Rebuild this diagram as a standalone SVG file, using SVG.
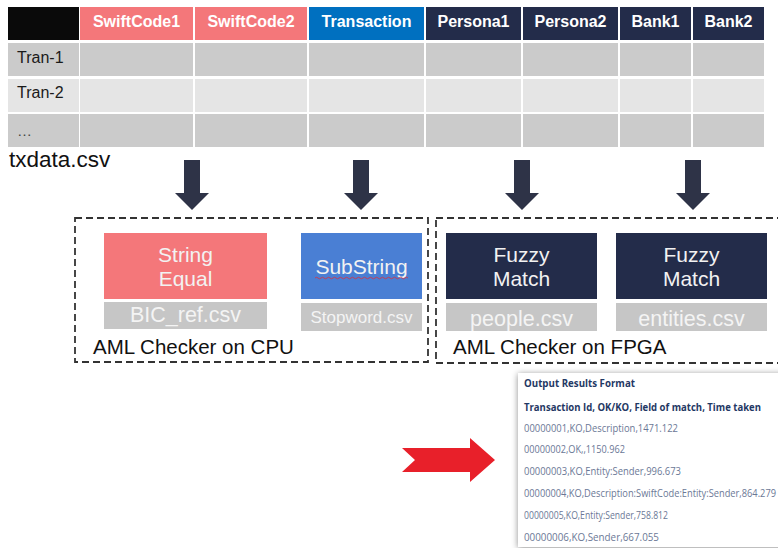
<svg xmlns="http://www.w3.org/2000/svg" width="778" height="548" viewBox="0 0 778 548">
<defs>
<style>
.t{font-family:"Liberation Sans",Arial,sans-serif}
.h{font-family:"Liberation Sans",Arial,sans-serif;font-weight:bold;font-size:16px;fill:#ffffff;text-anchor:middle}
.pink{fill:#f4777a}
.navy{fill:#232c4a}
.g1{fill:#cbcbcb}
.g2{fill:#e5e5e5}
.lbl{font-family:"Liberation Sans",Arial,sans-serif;font-size:21px;fill:#f2f2f2;text-anchor:middle}
.ref{fill:#c6c6c6}
.reft{font-family:"Liberation Sans",Arial,sans-serif;fill:#f4f4f4;text-anchor:middle}
.dash{fill:none;stroke:#333333;stroke-width:1.8;stroke-dasharray:7 4}
.arr{fill:#2e3347}
.out{font-family:"Open Sans","Liberation Sans",sans-serif;font-size:10px;fill:#6b7896}
.outb{font-family:"Open Sans","Liberation Sans",sans-serif;font-weight:bold;font-size:11px;fill:#1f3864}
</style>
<filter id="sh" x="-10%" y="-10%" width="120%" height="120%">
<feGaussianBlur in="SourceAlpha" stdDeviation="3"/>
<feOffset dx="0" dy="1" result="b"/>
<feFlood flood-color="#000" flood-opacity="0.45"/>
<feComposite in2="b" operator="in"/>
<feMerge><feMergeNode/><feMergeNode in="SourceGraphic"/></feMerge>
</filter>
</defs>
<rect width="778" height="548" fill="#ffffff"/>

<g id="table">
<rect x="8" y="7" width="71" height="33" fill="#0a0a0a"/>
<rect x="80" y="7" width="113" height="33" class="pink"/>
<rect x="195" y="7" width="112" height="33" class="pink"/>
<rect x="309" y="7" width="115" height="33" fill="#0070c0"/>
<rect x="426" y="7" width="95" height="33" class="navy"/>
<rect x="523" y="7" width="95" height="33" class="navy"/>
<rect x="620" y="7" width="71" height="33" class="navy"/>
<rect x="693" y="7" width="71" height="33" class="navy"/>
<text class="h" x="136.5" y="27">SwiftCode1</text>
<text class="h" x="251" y="27">SwiftCode2</text>
<text class="h" x="366.5" y="27">Transaction</text>
<text class="h" x="473.5" y="27">Persona1</text>
<text class="h" x="570.5" y="27">Persona2</text>
<text class="h" x="655.5" y="27">Bank1</text>
<text class="h" x="728.5" y="27">Bank2</text>
<g class="g1">
<rect x="8" y="43" width="71" height="33"/><rect x="80" y="43" width="113" height="33"/><rect x="195" y="43" width="112" height="33"/><rect x="309" y="43" width="115" height="33"/><rect x="426" y="43" width="95" height="33"/><rect x="523" y="43" width="95" height="33"/><rect x="620" y="43" width="71" height="33"/><rect x="693" y="43" width="71" height="33"/>
<rect x="8" y="114" width="71" height="33"/><rect x="80" y="114" width="113" height="33"/><rect x="195" y="114" width="112" height="33"/><rect x="309" y="114" width="115" height="33"/><rect x="426" y="114" width="95" height="33"/><rect x="523" y="114" width="95" height="33"/><rect x="620" y="114" width="71" height="33"/><rect x="693" y="114" width="71" height="33"/>
</g>
<g class="g2">
<rect x="8" y="79" width="71" height="33"/><rect x="80" y="79" width="113" height="33"/><rect x="195" y="79" width="112" height="33"/><rect x="309" y="79" width="115" height="33"/><rect x="426" y="79" width="95" height="33"/><rect x="523" y="79" width="95" height="33"/><rect x="620" y="79" width="71" height="33"/><rect x="693" y="79" width="71" height="33"/>
</g>
<text class="t" x="17" y="63" font-size="16" fill="#1a1a1a">Tran-1</text>
<text class="t" x="17" y="98" font-size="16" fill="#1a1a1a">Tran-2</text>
<text class="t" x="17" y="136" font-size="15" fill="#444444">…</text>
<text class="t" x="9" y="167" font-size="22.5" fill="#111111">txdata.csv</text>
</g>

<g id="connectors">
<path class="arr" d="M184,160 H200 V193 H209 L192,210 L175,193 H184 Z"/>
<path class="arr" d="M353,160 H369 V193 H378 L361,210 L344,193 H353 Z"/>
<path class="arr" d="M514,160 H530 V193 H539 L522,210 L505,193 H514 Z"/>
<path class="arr" d="M685,160 H701 V193 H710 L693,210 L676,193 H685 Z"/>
<path d="M402,448 H470 V438 L495,460 L470,482 V472 H402 L415,460 Z" fill="#e8202a"/>
</g>

<g id="cpu">
<rect class="dash" x="75" y="218" width="353" height="144"/>
<text class="t" x="93" y="354" font-size="20.5" fill="#111111">AML Checker on CPU</text>
</g>

<g id="fpga">
<rect class="dash" x="436" y="218" width="360" height="145"/>
<text class="t" x="453" y="354" font-size="20.5" fill="#111111">AML Checker on FPGA</text>
</g>

<g id="string-equal">
<rect x="104" y="233" width="163" height="66" class="pink"/>
<text class="lbl" x="185.5" y="262">String</text>
<text class="lbl" x="185.5" y="286">Equal</text>
<rect x="104" y="302" width="163" height="27" class="ref"/>
<text class="reft" x="185.5" y="322" font-size="21.5">BIC_ref.csv</text>
</g>

<g id="substring">
<rect x="301" y="233" width="121" height="66" fill="#4a7fd4"/>
<text class="lbl" x="361.5" y="274">SubString</text>
<path d="M315,278 q1.5,-1.5 3,0 t3,0 t3,0 t3,0 t3,0 t3,0 t3,0 t3,0 t3,0 t3,0 t3,0 t3,0 t3,0 t3,0 t3,0 t3,0 t3,0 t3,0 t3,0 t3,0 t3,0 t3,0 t3,0 t3,0 t3,0 t3,0 t3,0 t3,0 t3,0 t3,0 t3,0" fill="none" stroke="#d0384a" stroke-width="0.9"/>
<rect x="301" y="303" width="121" height="28" class="ref"/>
<text class="reft" x="361.5" y="323" font-size="17">Stopword.csv</text>
</g>

<g id="fuzzy-people">
<rect x="446" y="233" width="151" height="66" class="navy"/>
<text class="lbl" x="521.5" y="262">Fuzzy</text>
<text class="lbl" x="521.5" y="286">Match</text>
<rect x="446" y="303" width="151" height="28" class="ref"/>
<text class="reft" x="521.5" y="326" font-size="21.5">people.csv</text>
</g>

<g id="fuzzy-entities">
<rect x="616" y="233" width="151" height="66" class="navy"/>
<text class="lbl" x="691.5" y="262">Fuzzy</text>
<text class="lbl" x="691.5" y="286">Match</text>
<rect x="616" y="303" width="151" height="28" class="ref"/>
<text class="reft" x="691.5" y="326" font-size="21.5">entities.csv</text>
</g>

<g id="output">
<rect x="518" y="373" width="280" height="174" fill="#ffffff" filter="url(#sh)"/>
<text class="outb" x="524" y="387" font-size="11.5" textLength="111" lengthAdjust="spacingAndGlyphs">Output Results Format</text>
<text class="outb" x="524" y="411" font-size="10.5" textLength="237" lengthAdjust="spacingAndGlyphs">Transaction Id, OK/KO, Field of match, Time taken</text>
<text class="out" x="524" y="432" textLength="154" lengthAdjust="spacingAndGlyphs">00000001,KO,Description,1471.122</text>
<text class="out" x="524" y="453" textLength="101" lengthAdjust="spacingAndGlyphs">00000002,OK,,1150.962</text>
<text class="out" x="524" y="475" textLength="157" lengthAdjust="spacingAndGlyphs">00000003,KO,Entity:Sender,996.673</text>
<text class="out" x="524" y="497" textLength="252" lengthAdjust="spacingAndGlyphs">00000004,KO,Description:SwiftCode:Entity:Sender,864.279</text>
<text class="out" x="524" y="519" textLength="144" lengthAdjust="spacingAndGlyphs">00000005,KO,Entity:Sender,758.812</text>
<text class="out" x="524" y="541" textLength="135" lengthAdjust="spacingAndGlyphs">00000006,KO,Sender,667.055</text>
</g>
</svg>
